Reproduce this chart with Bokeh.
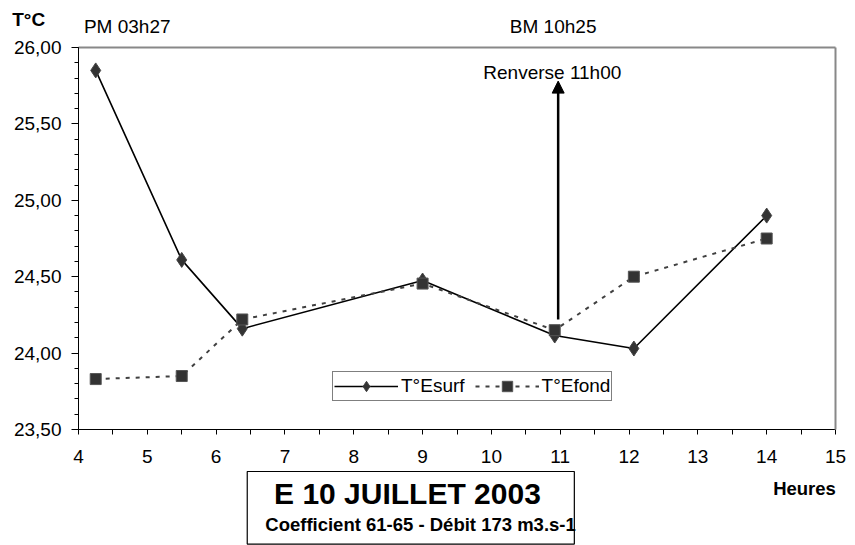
import numpy as np
from bokeh.plotting import figure
from bokeh.models import (Range1d, FixedTicker, Label, Arrow, NormalHead,
                          BoxAnnotation, Legend, LinearAxis)
from bokeh.embed import file_html
from bokeh.resources import INLINE

# ---- data ----
hours = [4.25, 5.5, 6.38, 9.0, 10.92, 12.07, 14.0]
t_surf = [25.85, 24.61, 24.16, 24.475, 24.115, 24.03, 24.90]
t_fond = [23.83, 23.85, 24.22, 24.455, 24.15, 24.50, 24.75]

x_ticks = [4, 5, 6, 7, 8, 9, 10, 11, 12, 13, 14, 15]
y_ticks = [23.5, 24.0, 24.5, 25.0, 25.5, 26.0]
y_tick_labels = ["23,50", "24,00", "24,50", "25,00", "25,50", "26,00"]

renverse_hour = 10.97
renverse_from = 24.22
renverse_to = 25.78

X0, X1 = 4, 15
Y0, Y1 = 23.5, 26.0

FONT = "Liberation Sans"
FS = "19px"

# canvas layout (pixels): plot area from x=78..835, y=47..429 on a 855x545 canvas
W, H = 855, 545
L, R, T, B = 78, 835, 47, 429
kx = (R - L) / (X1 - X0)
ky = (B - T) / (Y1 - Y0)

p = figure(width=W, height=H, output_backend="svg", toolbar_location=None,
           x_range=Range1d(X0 - L / kx, X1 + (W - R) / kx),
           y_range=Range1d(Y0 - (H - B) / ky, Y1 + T / ky),
           min_border=0)
p.outline_line_color = None
p.grid.visible = False
p.background_fill_color = "white"
p.border_fill_color = "white"

# axes positioned at the plot-area edges
xa = p.xaxis[0]
xa.fixed_location = Y0
xa.bounds = (X0, X1)
xa.ticker = FixedTicker(ticks=x_ticks,
                        minor_ticks=[t + 0.5 for t in x_ticks[:-1]])
xa.major_tick_out = 5
xa.major_tick_in = 0
xa.minor_tick_out = 5
xa.minor_tick_in = 0
xa.major_label_standoff = 15
xa.major_label_text_font = FONT
xa.major_label_text_font_size = FS
xa.major_label_text_color = "black"

ya = p.yaxis[0]
ya.fixed_location = X0
ya.bounds = (Y0, Y1)
ya.ticker = FixedTicker(ticks=y_ticks,
                        minor_ticks=list(np.round(np.arange(Y0, Y1 + 0.001, 0.1), 2)))
ya.major_label_overrides = {t: l for t, l in zip(y_ticks, y_tick_labels)}
ya.major_tick_out = 7
ya.major_tick_in = 0
ya.minor_tick_out = 4
ya.minor_tick_in = 0
ya.major_label_standoff = 10
ya.major_label_text_font = FONT
ya.major_label_text_font_size = FS
ya.major_label_text_color = "black"

# gray top and right border as bare axes
top_ax = LinearAxis(fixed_location=Y1, bounds=(X0, X1), ticker=FixedTicker(ticks=[]),
                    axis_line_color="#888888", axis_line_width=2,
                    major_label_text_color=None, major_tick_line_color=None,
                    minor_tick_line_color=None)
p.add_layout(top_ax, "above")
right_ax = LinearAxis(fixed_location=X1, bounds=(Y0, Y1), ticker=FixedTicker(ticks=[]),
                      axis_line_color="#888888", axis_line_width=2,
                      major_label_text_color=None, major_tick_line_color=None,
                      minor_tick_line_color=None)
p.add_layout(right_ax, "right")

# series
l1 = p.line(hours, t_surf, line_color="black", line_width=1.6)
s1 = p.scatter(hours, t_surf, marker="diamond", size=15,
               fill_color="#333333", line_color="#444444")
l2 = p.line(hours, t_fond, line_color="#404040", line_width=2, line_dash="4 6")
s2 = p.scatter(hours, t_fond, marker="square", size=11,
               fill_color="#333333", line_color="#555555")

legend = Legend(items=[("T°Esurf", [l1, s1]), ("T°Efond", [l2, s2])],
                orientation="horizontal", location=(332, H - 401),
                label_text_font=FONT, label_text_font_size=FS,
                label_text_color="black", label_standoff=3, spacing=10,
                glyph_width=64, glyph_height=26, label_height=20,
                padding=1, margin=0, border_line_color="black",
                border_line_width=1, background_fill_color="white",
                background_fill_alpha=1.0)
p.add_layout(legend, "center")

# arrow + label
p.add_layout(Arrow(end=NormalHead(size=12, fill_color="black", line_color="black"),
                   x_start=renverse_hour, y_start=renverse_from,
                   x_end=renverse_hour, y_end=renverse_to,
                   line_color="black", line_width=2.5))
p.add_layout(Label(x=10.885, y=25.836, text="Renverse 11h00", text_align="center",
                   text_baseline="middle", text_font=FONT, text_font_size=FS,
                   text_color="black"))

# texts above the plot area
p.add_layout(Label(x=3.276, y=26.18, text="T°C", text_align="center",
                   text_baseline="middle", text_font=FONT, text_font_size=FS,
                   text_font_style="bold", text_color="black"))
p.add_layout(Label(x=4.708, y=26.137, text="PM 03h27", text_align="center",
                   text_baseline="middle", text_font=FONT, text_font_size=FS,
                   text_color="black"))
p.add_layout(Label(x=10.897, y=26.137, text="BM 10h25", text_align="center",
                   text_baseline="middle", text_font=FONT, text_font_size=FS,
                   text_color="black"))

# texts below the plot area
p.add_layout(Label(x=14.55, y=23.114, text="Heures", text_align="center",
                   text_baseline="middle", text_font=FONT, text_font_size="18.5px",
                   text_font_style="bold", text_color="black"))
p.add_layout(BoxAnnotation(left=6.452, right=11.205, top=23.225, bottom=22.75,
                           fill_color="white", fill_alpha=1.0,
                           line_color="black", line_alpha=1.0, line_width=1.2))
p.add_layout(Label(x=8.78, y=23.081, text="E 10 JUILLET 2003", text_align="center",
                   text_baseline="middle", text_font=FONT, text_font_size="30px",
                   text_font_style="bold", text_color="black"))
p.add_layout(Label(x=8.97, y=22.878, text="Coefficient 61-65 - Débit 173 m3.s-1",
                   text_align="center", text_baseline="middle", text_font=FONT,
                   text_font_size="18.5px", text_font_style="bold", text_color="black"))

open("out.html", "w").write(file_html(p, INLINE))
